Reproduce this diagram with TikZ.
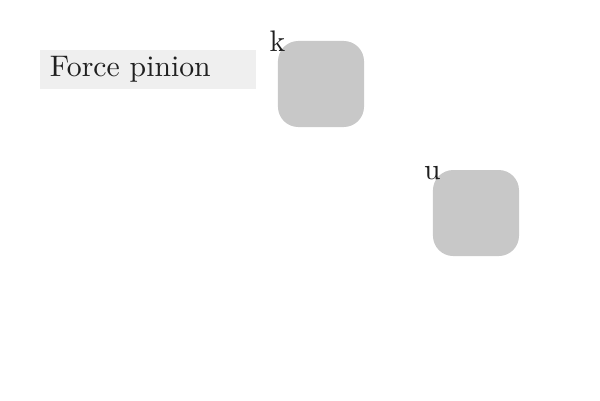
\documentclass[tikz,border=0pt]{standalone}
\usepackage{tikz}
\usetikzlibrary{positioning}

\definecolor{panelgray}{RGB}{239,239,239}
\definecolor{blockgray}{RGB}{200,200,200}

\begin{document}
\begin{tikzpicture}[
    panel/.style={fill=panelgray, minimum height=0.461cm, inner xsep=0.118cm,
                  inner ysep=0.06cm, text width=2.317cm, align=left,
                  text=black!88},
    block/.style={fill=blockgray, rounded corners=0.24cm,
                  minimum width=1.017cm, minimum height=1.017cm},
    tag/.style={inner sep=0pt, anchor=base, text=black!88}
  ]

  % Frame
  \useasboundingbox (0,0) rectangle (7.092,-4.728);

  % Title panel
  \node[panel] (force) at (1.749,-0.822) {Force pinion};

  % Blocks
  \node[block] (k) at (3.794,-0.993) {};
  \node[block] (u) at (5.626,-2.518) {};

  % Labels
  \node[tag] (klabel) at ([yshift=-0.13cm]k.north west) {k};
  \node[tag] (ulabel) at ([yshift=-0.12cm]u.north west) {u};

\end{tikzpicture}
\end{document}
